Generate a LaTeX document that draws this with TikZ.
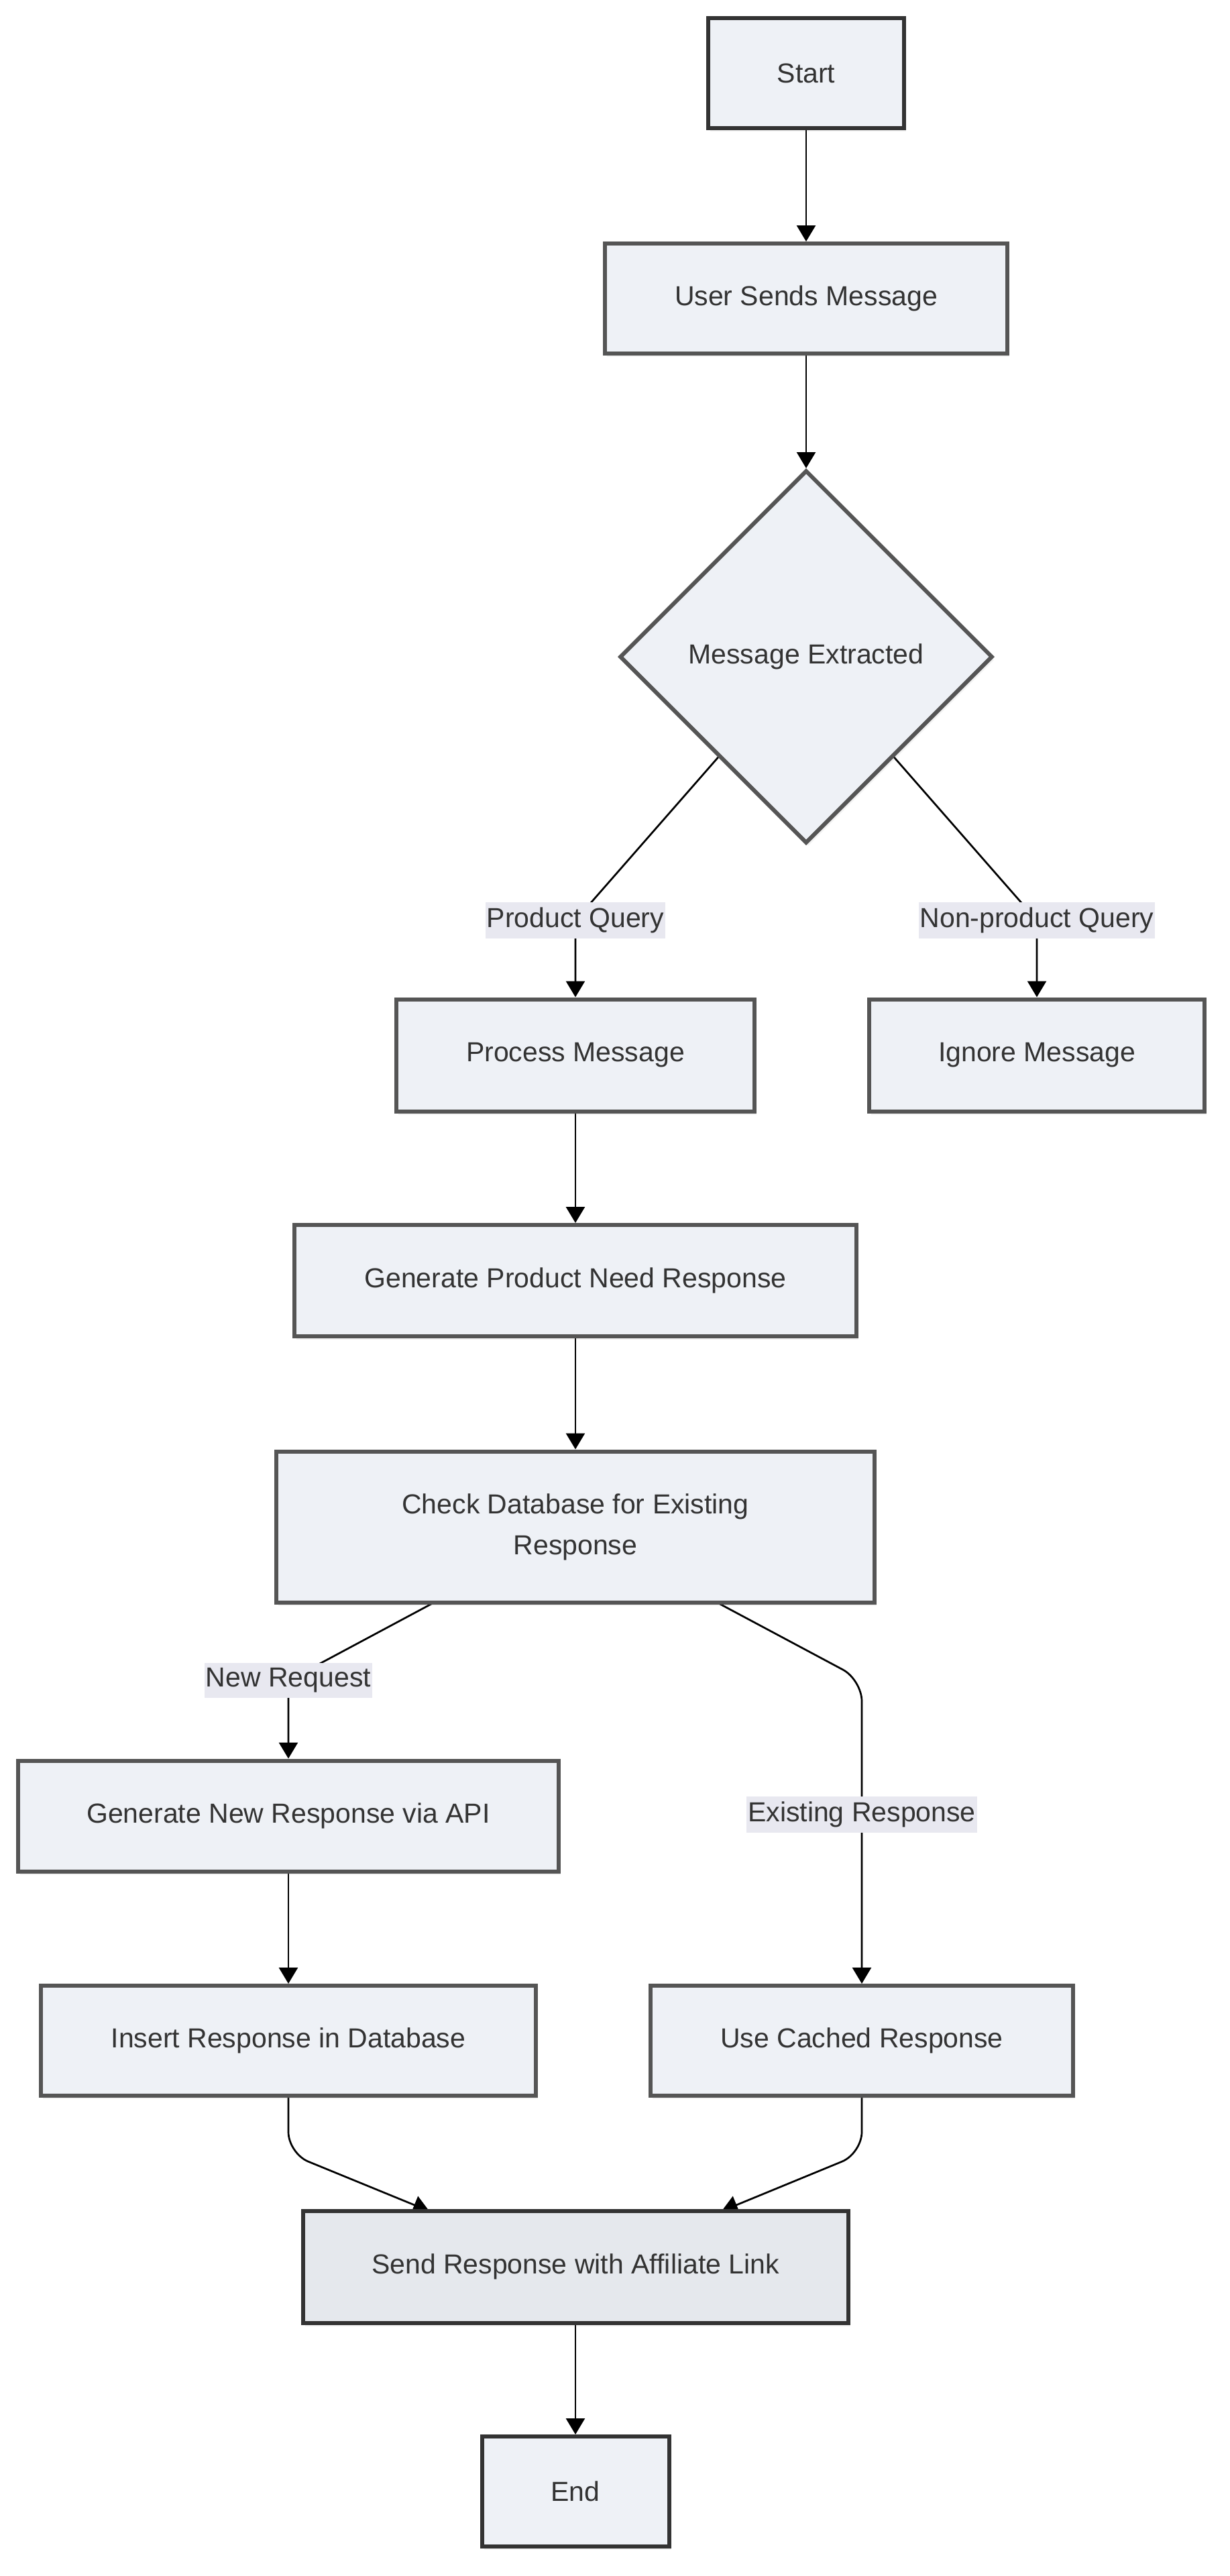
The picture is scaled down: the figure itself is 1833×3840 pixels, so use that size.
\documentclass[tikz,border=0pt]{standalone}
\usepackage{fontspec}
\setmainfont{Liberation Sans}
\usetikzlibrary{arrows.meta,shapes.geometric,calc,shadows,backgrounds}
\definecolor{nodefill}{HTML}{EEF1F6}
\definecolor{sendfill}{HTML}{E5E8ED}
\definecolor{bordergray}{HTML}{555555}
\definecolor{borderdark}{HTML}{333333}
\definecolor{labelfill}{HTML}{E8E8F0}
\definecolor{txt}{HTML}{333333}
\begin{document}
\begin{tikzpicture}[x=0.5pt,y=-0.5pt,
  every node/.style={font=\fontsize{20.5pt}{30.5pt}\selectfont, text=txt},
  box/.style={rectangle, draw=bordergray, line width=3pt, fill=nodefill, inner sep=0pt, align=center,
    drop shadow={opacity=0.10, shadow xshift=1.5pt, shadow yshift=-2.5pt}},
  term/.style={box, draw=borderdark},
  decision/.style={box, diamond, aspect=1, minimum width=278pt, minimum height=278pt},
  elabel/.style={fill=labelfill, inner xsep=1pt, inner ysep=4pt},
  conn/.style={draw=black, line width=1.35pt, -{Triangle[length=12pt,width=14pt]}}
]
\useasboundingbox (0,0) rectangle (1833,3840);

% nodes
\node[term, minimum width=146pt, minimum height=82pt] (start) at (1202,109) {Start};
\node[box, minimum width=300pt, minimum height=82pt] (user) at (1202,445) {User Sends Message};
\node[decision] (dec) at (1202,979) {Message Extracted};
\node[box, minimum width=267pt, minimum height=83.5pt] (proc) at (858,1573) {Process Message};
\node[box, minimum width=250pt, minimum height=83.5pt] (ign) at (1546,1573) {Ignore Message};
\node[box, minimum width=419pt, minimum height=83pt] (gpn) at (858,1909) {Generate Product Need Response};
\node[box, minimum width=446pt, minimum height=112.5pt] (cdb) at (858,2276) {Check Database for Existing\\Response};
\node[box, minimum width=403pt, minimum height=82.5pt] (gnr) at (430,2707) {Generate New Response via API};
\node[box, minimum width=369pt, minimum height=82pt] (ins) at (430,3042) {Insert Response in Database};
\node[box, minimum width=315pt, minimum height=82pt] (cache) at (1285,3042) {Use Cached Response};
\node[term, fill=sendfill, minimum width=406.5pt, minimum height=83.5pt] (send) at (858,3379) {Send Response with Affiliate Link};
\node[term, minimum width=139.5pt, minimum height=82pt] (end) at (858,3714) {End};

% edge labels
\node[elabel] (lpq) at (858,1372) {Product Query};
\node[elabel] (lnq) at (1546,1372) {Non-product Query};
\node[elabel] (lnr) at (430,2505) {New Request};
\node[elabel] (ler) at (1285,2705) {Existing Response};

% bend points
\coordinate (ck) at (1285,2504);
\coordinate (ik) at (430,3210);
\coordinate (uk) at (1285,3210);
\coordinate (sl) at (640,3296);
\coordinate (sr) at (1076,3296);

\begin{scope}[on background layer]
  \fill[white] (0,0) rectangle (1833,3840);
  \draw[conn] (start.south) -- (user.north);
  \draw[conn] (user.south) -- (dec.north);
  \draw[conn] (dec.center) -- (lpq.center) -- (proc.north);
  \draw[conn] (dec.center) -- (lnq.center) -- (ign.north);
  \draw[conn] (proc.south) -- (gpn.north);
  \draw[conn] (gpn.south) -- (cdb.north);
  \draw[conn] (cdb.center) -- (lnr.center) -- (gnr.north);
  \draw[conn, rounded corners=16pt] (cdb.center) -- (ck) -- (cache.north);
  \draw[conn] (gnr.south) -- (ins.north);
  \draw[conn, rounded corners=16pt] (ins.south) -- (ik) -- (sl);
  \draw[conn, rounded corners=16pt] (cache.south) -- (uk) -- (sr);
  \draw[conn] (send.south) -- (end.north);
\end{scope}
\end{tikzpicture}
\end{document}
